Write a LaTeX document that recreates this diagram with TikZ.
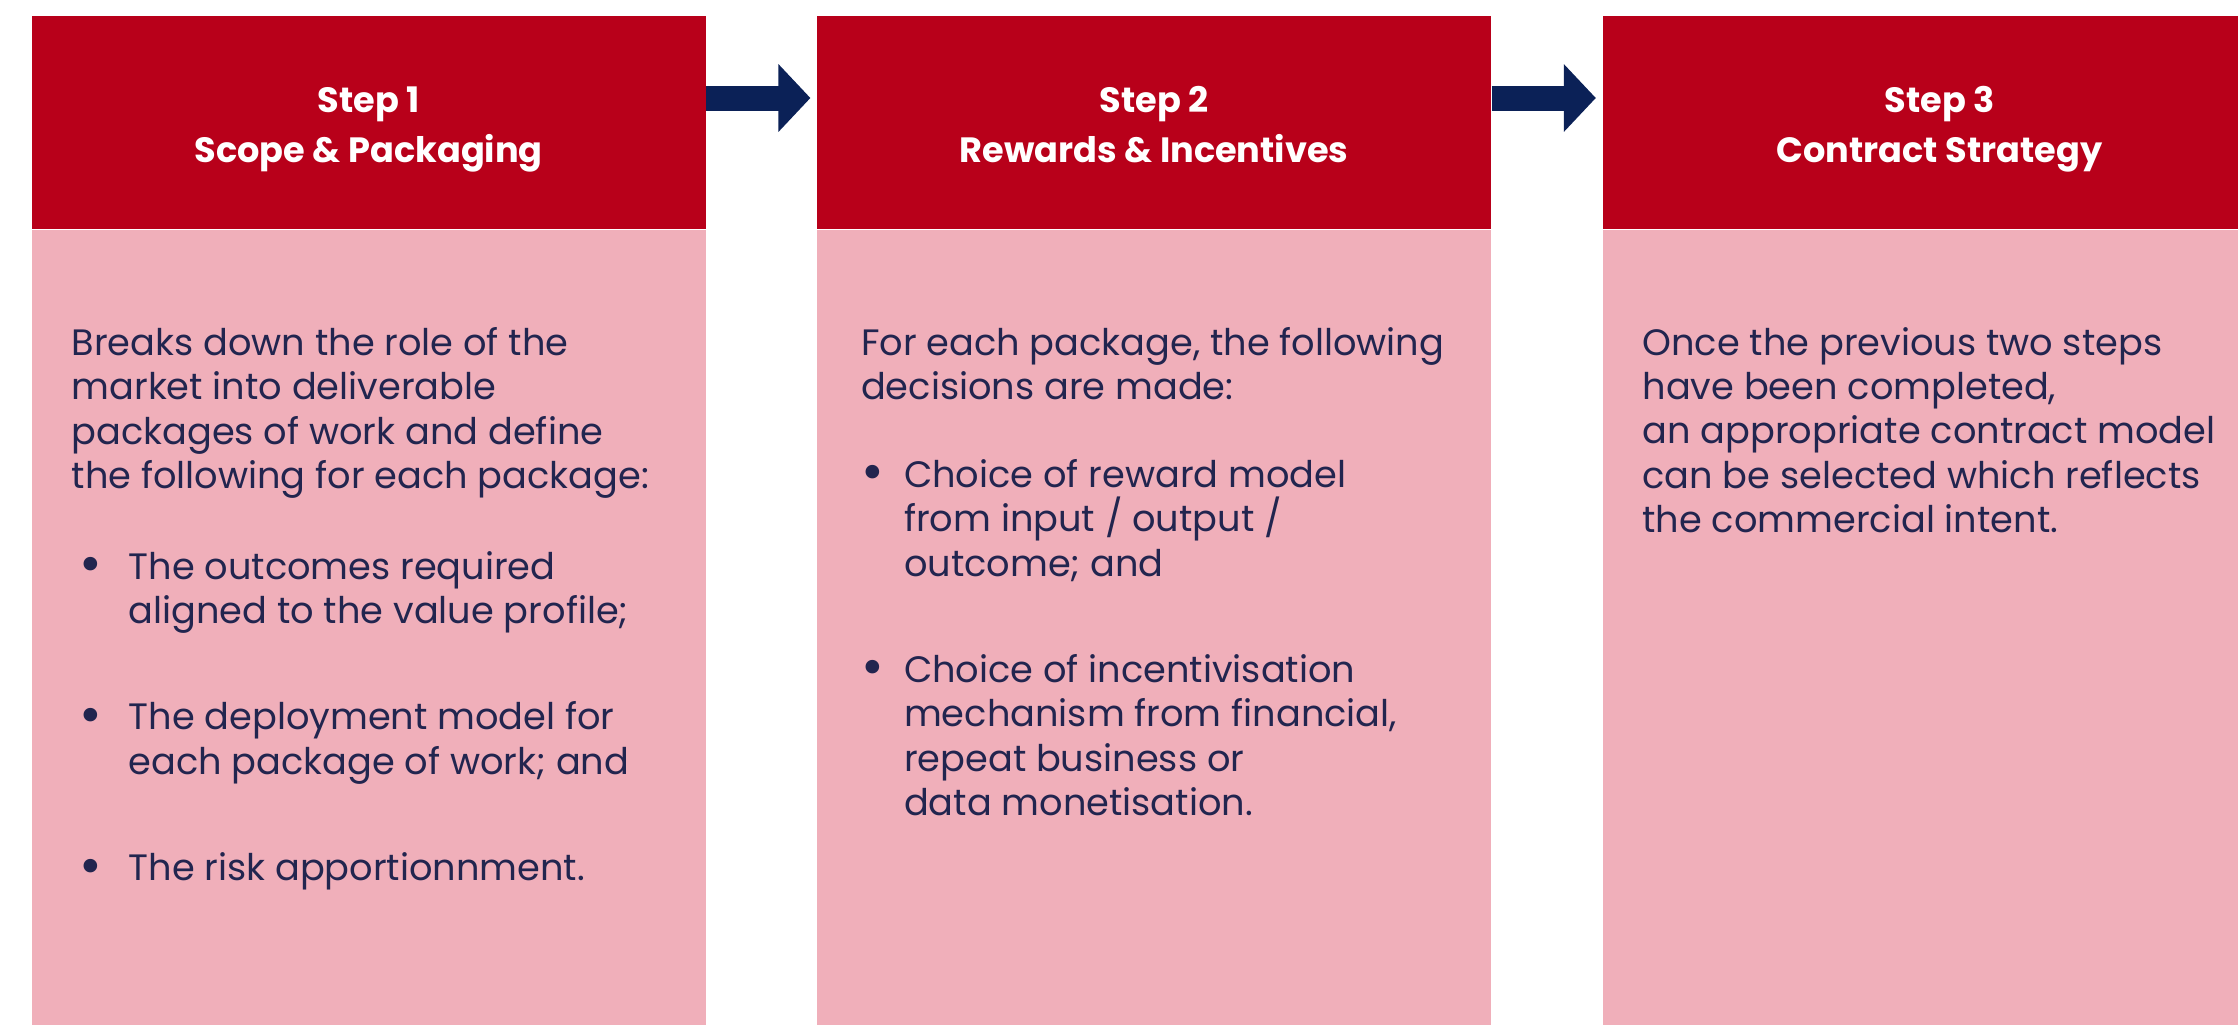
\documentclass[tikz,border=0pt]{standalone}
\usepackage{fontspec}
\setmainfont{Poppins}
\usetikzlibrary{positioning,arrows.meta,calc}

\definecolor{stepred}{HTML}{B8001A}
\definecolor{steppink}{HTML}{F0AFBA}
\definecolor{stepnavy}{HTML}{22254F}
\definecolor{arrownavy}{HTML}{0B2157}

% bullet and hanging indent (width of the indent as option)
\newcommand{\itm}[2][0.57cm]{\makebox[#1][l]{\hspace{#2}\raisebox{-0.09em}{\scalebox{1.5}{\textbullet}}}}
\newcommand{\ind}[1][0.57cm]{\hspace*{#1}}
\newcommand{\topstrut}{\rule{0pt}{12.8pt}}

\begin{document}
\begin{tikzpicture}[node distance=1.10cm]
  \tikzstyle{header}=[rectangle, fill=stepred, minimum width=6.74cm, minimum height=2.13cm, inner sep=0pt, text=white, font=\fontsize{10}{14.2}\selectfont\bfseries, align=center]
  \tikzstyle{panel}=[rectangle, fill=steppink, minimum width=6.74cm, minimum height=8.2cm, inner sep=0pt]
  \tikzstyle{bodytext}=[anchor=north west, inner sep=0pt, text=stepnavy, font=\fontsize{10.45}{12.65}\selectfont, align=left]
  \tikzstyle{flow}=[line width=0.25cm, arrownavy, -{Triangle[length=0.32cm, width=0.66cm]}]

  \useasboundingbox (0,0) rectangle (22.38,-10.24);
  \clip (0,0) rectangle (22.38,-10.24);

  % step headers
  \node[header, anchor=north west] (h1) at (0.31,-0.15) {\topstrut Step 1\\Scope \& Packaging\strut};
  \node[header, right=of h1] (h2) {\topstrut Step 2\\Rewards \& Incentives\strut};
  \node[header, right=of h2] (h3) {\topstrut Step 3\\Contract Strategy\strut};

  % pink panels
  \node[panel, below=0cm of h1] (p1) {};
  \node[panel, below=0cm of h2] (p2) {};
  \node[panel, below=0cm of h3] (p3) {};

  \node[bodytext] (t1) at ($(p1.north west)+(0.40,-0.97)$) {%
    Breaks down the role of the\\
    market into deliverable\\
    packages of work and define\\
    the following for each package:\\[0.46cm]
    \itm{0.08cm}The outcomes required\\
    \ind aligned to the value profile;\\[0.62cm]
    \itm{0.08cm}The deployment model for\\
    \ind each package of work; and\\[0.62cm]
    \itm{0.08cm}The risk apportionnment.};
  \node[bodytext] (t2) at ($(p2.north west)+(0.44,-0.97)$) {%
    For each package, the following\\
    decisions are made:\\[0.43cm]
    \itm[0.43cm]{0cm}Choice of reward model\\
    \ind[0.43cm]from input / output /\\
    \ind[0.43cm]outcome; and\\[0.62cm]
    \itm[0.43cm]{0cm}Choice of incentivisation\\
    \ind[0.43cm]mechanism from financial,\\
    \ind[0.43cm]repeat business or\\
    \ind[0.43cm]data monetisation.};
  \node[bodytext] (t3) at ($(p3.north west)+(0.40,-0.97)$) {%
    Once the previous two steps\\
    have been completed,\\
    an appropriate contract model\\
    can be selected which reflects\\
    the commercial intent.};

  \draw[flow] ($(h1.north east)+(0,-0.83)$) -- ($(h2.north west)+(-0.06,-0.83)$);
  \draw[flow] ($(h2.north east)+(0,-0.83)$) -- ($(h3.north west)+(-0.06,-0.83)$);
\end{tikzpicture}
\end{document}
